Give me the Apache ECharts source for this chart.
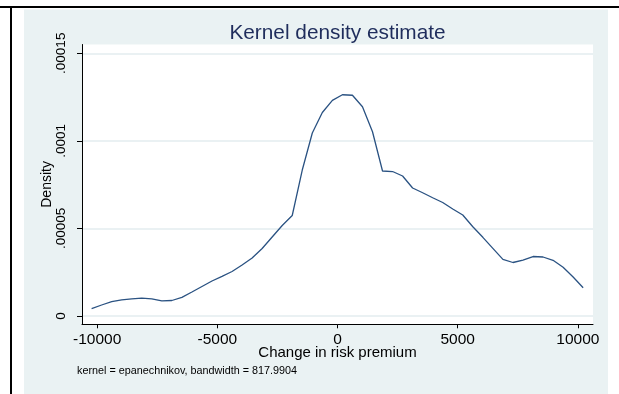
<!DOCTYPE html>
<html><head><meta charset="utf-8">
<script src="https://cdn.jsdelivr.net/npm/echarts@6/dist/echarts.min.js"></script>
<style>html,body{margin:0;padding:0;background:#fff}#c{width:619px;height:394px}</style>
</head><body><div id="c"></div>
<script>
// Evaluation points (change in risk premium)
const xValues = [
  -10230, -9813, -9395, -8978, -8561, -8143, -7726, -7309, -6891, -6474,
  -6057, -5639, -5222, -4804, -4387, -3970, -3552, -3135, -2718, -2300,
  -1883, -1466, -1048, -631, -213, 204, 621, 1039, 1456, 1873,
  2291, 2708, 3125, 3543, 3960, 4377, 4795, 5212, 5630, 6047,
  6464, 6882, 7299, 7716, 8134, 8551, 8968, 9386, 9803, 10220
];
// Kernel density estimate
const densityValues = [
  4.17e-6, 6.28e-6, 8.16e-6, 9.25e-6, 9.82e-6, 1.016e-5, 9.82e-6, 8.68e-6, 8.85e-6, 1.067e-5,
  1.370e-5, 1.684e-5, 1.998e-5, 2.266e-5, 2.540e-5, 2.911e-5, 3.311e-5, 3.853e-5, 4.509e-5, 5.166e-5,
  5.737e-5, 8.334e-5, 1.0446e-4, 1.1616e-4, 1.2312e-4, 1.2632e-4, 1.2603e-4, 1.1947e-4, 1.0520e-4, 8.277e-5,
  8.248e-5, 7.991e-5, 7.306e-5, 7.038e-5, 6.753e-5, 6.479e-5, 6.108e-5, 5.765e-5, 5.097e-5, 4.492e-5,
  3.864e-5, 3.236e-5, 3.054e-5, 3.196e-5, 3.396e-5, 3.368e-5, 3.179e-5, 2.780e-5, 2.226e-5, 1.610e-5
];
const xTickValues = [-10000, -5000, 0, 5000, 10000];
const xTickLabels = ['-10000', '-5000', '0', '5000', '10000'];
const yTickValues = [0, 0.00005, 0.0001, 0.00015];
const yTickLabels = ['0', '.00005', '.0001', '.00015'];

const FONT = '"Liberation Sans", Arial, Helvetica, sans-serif';
function lookup(vals, labels, v) {
  let best = 0;
  for (let i = 1; i < vals.length; i++) if (Math.abs(vals[i] - v) < Math.abs(vals[best] - v)) best = i;
  return labels[best];
}
const seriesData = xValues.map((x, i) => [x, densityValues[i]]);

const chart = echarts.init(document.getElementById('c'), null, { renderer: 'canvas' });
chart.setOption({
  animation: false,
  backgroundColor: '#ffffff',
  title: {
    text: 'Kernel density estimate',
    left: 337.5, top: 23, textAlign: 'center', padding: 0,
    textStyle: { fontFamily: FONT, fontSize: 20.8, fontWeight: 'normal', color: '#1f2d5c' }
  },
  graphic: [
    { type: 'rect', z: -10, silent: true, shape: { x: 24, y: 9.5, width: 584, height: 385 }, style: { fill: '#eaf2f3' } },
    { type: 'line', z: 10, silent: true, shape: { x1: 0, y1: 7, x2: 619, y2: 7 }, style: { stroke: '#000', lineWidth: 2 } },
    { type: 'line', z: 10, silent: true, shape: { x1: 11, y1: 6, x2: 11, y2: 394 }, style: { stroke: '#000', lineWidth: 2 } },
    { type: 'text', z: 10, silent: true, left: 77, top: 366,
      style: { text: 'kernel = epanechnikov, bandwidth = 817.9904', font: '10.8px ' + FONT, fill: '#000' } }
  ],
  grid: { left: 82, right: 26, top: 44.5, bottom: 69.7, show: true, backgroundColor: '#ffffff', borderWidth: 0 },
  xAxis: {
    type: 'value', min: -10630, max: 10630,
    name: 'Change in risk premium', nameLocation: 'middle', nameGap: 21, nameMoveOverlap: false,
    nameTextStyle: { fontFamily: FONT, fontSize: 15, color: '#000' },
    axisLine: { show: true, onZero: false, lineStyle: { color: '#000', width: 1 } },
    axisTick: { show: true, customValues: xTickValues, length: 4, lineStyle: { color: '#000', width: 1 } },
    axisLabel: { customValues: xTickValues, margin: 7, fontFamily: FONT, fontSize: 15.5, color: '#000',
      formatter: v => lookup(xTickValues, xTickLabels, v) },
    splitLine: { show: false }
  },
  yAxis: {
    type: 'value', min: -0.00000474, max: 0.000155,
    name: 'Density', nameLocation: 'middle', nameGap: 28, nameRotate: 90, nameMoveOverlap: false,
    nameTextStyle: { fontFamily: FONT, fontSize: 14, color: '#000' },
    axisLine: { show: true, onZero: false, lineStyle: { color: '#000', width: 1 } },
    axisTick: { show: true, customValues: yTickValues, length: 5, lineStyle: { color: '#000', width: 1 } },
    axisLabel: { customValues: yTickValues, rotate: 90, margin: 14, fontFamily: FONT, fontSize: 13.5, color: '#000',
      formatter: v => lookup(yTickValues, yTickLabels, v) },
    splitLine: { show: true, lineStyle: { color: '#e3ecef', width: 1.5 } }
  },
  series: [
    {
      type: 'line', data: seriesData, showSymbol: false, smooth: false,
      lineStyle: { color: '#2a5282', width: 1.3 }
    }
  ]
});
</script>
</body></html>
